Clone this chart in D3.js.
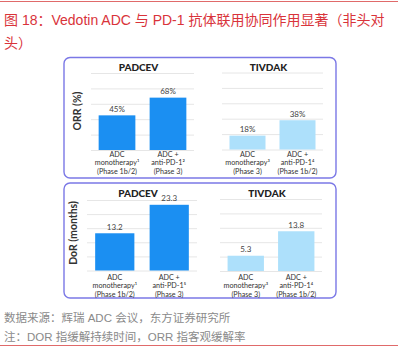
<!DOCTYPE html>
<html>
<head>
<meta charset="utf-8">
<script src="https://cdn.jsdelivr.net/npm/d3@7"></script>
<style>
  body { margin: 0; background: #fff; }
  svg { display: block; }
</style>
</head>
<body>
<div id="chart"></div>
<script>
// values
var categories = ["ADC monotherapy", "ADC + anti-PD-1"];
var orrPadcev = [45, 68];
var orrTivdak = [18, 38];
var dorPadcev = [13.2, 23.3];
var dorTivdak = [5.3, 13.8];
var orrTicks = [0, 20, 40, 60, 80, 100];
var dorTicks = [0, 5, 10, 15, 20, 25];
var padcevLabels = [["ADC", "monotherapy¹", "(Phase 1b/2)"], ["ADC +", "anti-PD-1²", "(Phase 3)"]];
var tivdakLabels = [["ADC", "monotherapy³", "(Phase 3)"], ["ADC +", "anti-PD-1⁴", "(Phase 1b/2)"]];
var padcevDorLabels = [["ADC", "monotherapy¹", "(Phase 1b/2)"], ["ADC +", "anti-PD-1⁵", "(Phase 3)"]];
var titleLines = ["图 18：Vedotin ADC 与 PD-1 抗体联用协同作用显著（非头对", "头）"];
var notes = ["数据来源：辉瑞 ADC 会议，东方证券研究所", "注：DOR 指缓解持续时间，ORR 指客观缓解率"];

var width = 398, height = 353;
var svg = d3.select("#chart").append("svg")
    .attr("width", width)
    .attr("height", height);

var red = "#d9333a";
var latin = "Lato, 'Open Sans', sans-serif";
var cjk = "'Liberation Sans', 'Noto Sans CJK SC', sans-serif";

// red rules top and bottom
svg.append("line").attr("x1", 0).attr("x2", width).attr("y1", 1.5).attr("y2", 1.5)
    .attr("stroke", "#e06a6a").attr("stroke-width", 1);
svg.append("line").attr("x1", 0).attr("x2", width).attr("y1", 345.5).attr("y2", 345.5)
    .attr("stroke", "#e06a6a").attr("stroke-width", 1);

// title
svg.selectAll("text.title").data(titleLines).enter().append("text")
    .attr("class", "title")
    .attr("x", 4)
    .attr("y", function (d, i) { return 25 + i * 23; })
    .attr("fill", red)
    .style("font-family", cjk)
    .style("font-size", "14px")
    .text(function (d) { return d; });

// notes
svg.selectAll("text.note").data(notes).enter().append("text")
    .attr("class", "note")
    .attr("x", 4)
    .attr("y", function (d, i) { return 322 + i * 19; })
    .attr("fill", "#8a8a8a")
    .style("font-family", cjk)
    .style("font-size", "11.5px")
    .text(function (d) { return d; });

// panel frames
var panels = [
    { y: 57.5, h: 120.5, label: "ORR (%)", labelX: 77, labelY: 111 },
    { y: 183, h: 115, label: "DoR (months)", labelX: 73, labelY: 233 }
];
panels.forEach(function (p) {
    svg.append("rect")
        .attr("x", 64).attr("y", p.y)
        .attr("width", 272).attr("height", p.h)
        .attr("rx", 6).attr("ry", 6)
        .attr("fill", "#fff")
        .attr("stroke", "#7b78e6")
        .attr("stroke-width", 1.4);
    svg.append("text")
        .attr("transform", "translate(" + p.labelX + "," + p.labelY + ") rotate(-90)")
        .attr("text-anchor", "middle")
        .attr("dominant-baseline", "central")
        .attr("fill", "#333")
        .style("font-family", latin)
        .style("font-weight", "bold")
        .style("font-size", "10.5px")
        .text(p.label);
});

// sub charts
var charts = [
    { name: "PADCEV", values: orrPadcev, labels: padcevLabels, x: [91, 194], y: [150, 73], max: 100,
      ticks: orrTicks, color: "#1b8ff2", titleY: 67, fmt: function (d) { return d + "%"; }, catY: 154 },
    { name: "TIVDAK", values: orrTivdak, labels: tivdakLabels, x: [222, 323], y: [149.5, 72.5], max: 100,
      ticks: orrTicks, color: "#ade0fb", titleY: 67, fmt: function (d) { return d + "%"; }, catY: 154 },
    { name: "PADCEV", values: dorPadcev, labels: padcevDorLabels, x: [87, 197], y: [270.5, 200], max: 25,
      ticks: dorTicks, color: "#1b8ff2", titleY: 193, fmt: function (d) { return d3.format(".1f")(d); }, catY: 277 },
    { name: "TIVDAK", values: dorTivdak, labels: tivdakLabels, x: [220, 322], y: [271, 199], max: 25,
      ticks: dorTicks, color: "#ade0fb", titleY: 193, fmt: function (d) { return d3.format(".1f")(d); }, catY: 277 }
];

charts.forEach(function (c) {
    var x = d3.scaleBand().domain(categories).range(c.x).paddingInner(0.28).paddingOuter(0.15);
    var y = d3.scaleLinear().domain([0, c.max]).range(c.y);
    var g = svg.append("g");

    // grid lines
    var grid = g.append("g")
        .attr("transform", "translate(" + c.x[0] + ",0)")
        .call(d3.axisLeft(y).tickValues(c.ticks).tickSize(-(c.x[1] - c.x[0])).tickFormat(""));
    grid.select(".domain").remove();
    grid.selectAll(".tick line").attr("stroke", "#e6e6e6").attr("stroke-width", 1);

    g.append("text")
        .attr("x", (c.x[0] + c.x[1]) / 2 - 4)
        .attr("y", c.titleY)
        .attr("text-anchor", "middle")
        .attr("dominant-baseline", "central")
        .attr("fill", "#222")
        .style("font-family", latin)
        .style("font-weight", "900")
        .style("font-size", "10px")
        .text(c.name);

    g.selectAll("rect.bar").data(c.values).enter().append("rect")
        .attr("class", "bar")
        .attr("x", function (d, i) { return x(categories[i]); })
        .attr("width", x.bandwidth())
        .attr("y", function (d) { return y(d); })
        .attr("height", function (d) { return y(0) - y(d); })
        .attr("fill", c.color);

    g.selectAll("text.val").data(c.values).enter().append("text")
        .attr("class", "val")
        .attr("x", function (d, i) { return x(categories[i]) + x.bandwidth() / 2; })
        .attr("y", function (d) { return y(d) - 3.5; })
        .attr("text-anchor", "middle")
        .attr("fill", "#444")
        .style("font-family", latin)
        .style("font-size", "8px")
        .text(c.fmt);

    c.labels.forEach(function (lines, i) {
        g.selectAll(null).data(lines).enter().append("text")
            .attr("x", x(categories[i]) + x.bandwidth() / 2)
            .attr("y", function (d, j) { return c.catY + j * 8.8; })
            .attr("text-anchor", "middle")
            .attr("dominant-baseline", "central")
            .attr("fill", "#333")
            .style("font-family", latin)
            .style("font-size", "7.2px")
            .text(function (d) { return d; });
    });
});
</script>
</body>
</html>
